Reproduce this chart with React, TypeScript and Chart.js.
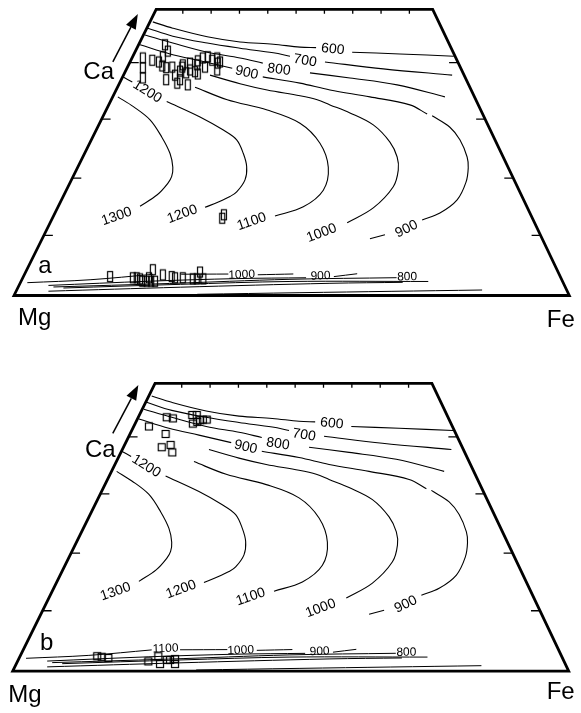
import React, { useEffect, useRef } from "react";
import { Chart, registerables } from "chart.js";

Chart.register(...registerables);

type P = [number, number];
type Lbl = { t: string; x: number; y: number; r: number };

const FONT = '"Liberation Sans", Arial, Helvetica, sans-serif';

// Coordinates: x = position along Mg -> Fe (%), y = Ca (Wo %)
const frameCorners: P[] = [[0, 0], [100, 0], [75.4, 50], [25.6, 50]];
const sideTicks: number[] = [10.5, 20.5, 30.8, 40.7];
const topTicks: number[] = [30.4, 35.5, 40.6, 45.7, 50.8, 55.9, 61.0, 66.1, 71.2];

// Ca-rich isotherms
const aug600a: P[] = [[25.0, 47.8], [28.6, 46.7], [34.8, 45.2], [40.7, 44.3], [46.7, 43.9], [51.5, 43.4], [54.4, 43.3]];
const aug600b: P[] = [[60.9, 42.5], [69.5, 42.2], [79.2, 41.8]];
const aug700a: P[] = [[24.1, 46.7], [28.6, 45.3], [34.8, 44.1], [40.7, 43.2], [46.7, 42.4], [49.7, 41.8]];
const aug700b: P[] = [[56.0, 40.8], [66.5, 39.6], [78.9, 38.5]];
const aug800a: P[] = [[23.6, 45.5], [28.6, 44.1], [34.8, 42.5], [40.7, 41.5], [44.8, 40.6]];
const aug800b: P[] = [[53.3, 38.9], [60.5, 38.0], [69.0, 36.8], [77.6, 34.7]];
const aug900a: P[] = [[22.7, 43.8], [28.1, 42.2], [33.5, 41.0], [39.3, 39.7]];
const aug900b: P[] = [[44.8, 38.2], [51.5, 37.1], [56.9, 35.9], [64.1, 34.7], [71.3, 33.3], [74.4, 31.7]];
const aug900c: P[] = [[75.3, 31.4], [78.5, 29.4], [80.3, 27.2], [81.6, 24.2], [81.8, 22.3], [81.4, 19.8], [79.8, 16.7], [76.7, 14.4], [73.5, 13.2]];
const aug900d: P[] = [[66.8, 10.6], [64.1, 9.9]];
const iso1000: P[] = [[35.3, 38.5], [40.7, 37.0], [45.6, 35.9], [51.5, 34.9], [54.6, 34.2], [56.9, 33.3], [60.5, 31.9], [64.7, 29.8], [67.7, 26.8], [69.0, 24.2], [69.2, 21.9], [68.3, 19.0], [64.7, 15.3], [60.0, 12.7]];
const iso1100: P[] = [[32.6, 36.4], [38.4, 34.2], [45.6, 32.4], [51.5, 30.1], [55.1, 26.6], [56.6, 22.4], [55.7, 18.4], [52.1, 15.5], [47.0, 13.9]];
const iso1200a: P[] = [[19.6, 38.2], [21.3, 37.3]];
const iso1200b: P[] = [[27.5, 33.9], [33.5, 31.2], [37.7, 28.9], [40.1, 27.2], [41.3, 24.8], [41.9, 22.5], [41.6, 20.2], [40.1, 18.1], [38.9, 17.3], [36.7, 16.3], [34.4, 15.4]];
const iso1300: P[] = [[18.7, 34.7], [21.5, 33.0], [24.5, 30.7], [26.6, 27.7], [28.1, 24.8], [28.6, 22.4], [28.4, 20.8], [27.7, 19.6], [25.8, 17.6], [22.7, 15.6]];

// Ca-poor isotherms
const lowTopA: P[] = [[2.4, 2.24], [13.7, 2.75], [25.0, 3.7]];
const lowTopB: P[] = [[30.1, 3.72], [38.6, 3.75]];
const lowTopC: P[] = [[43.9, 3.62], [50.3, 3.76]];
const low900a: P[] = [[6.2, 1.76], [24.5, 2.5], [40.0, 2.95], [52.6, 3.1]];
const low900b: P[] = [[57.6, 3.3], [61.8, 3.8]];
const low800: P[] = [[7.1, 1.49], [28.0, 2.1], [49.7, 2.83], [68.9, 3.11]];
const lowD: P[] = [[8.9, 1.31], [30.0, 1.95], [49.7, 2.45], [74.6, 2.45]];
const lowE: P[] = [[6.2, 0.75], [30.0, 1.45], [56.9, 2.13], [70.0, 2.3]];
const lowF: P[] = [[33.0, 0.21], [51.5, 0.49], [84.3, 0.96]];

const augiteSegments: P[][] = [aug600a, aug600b, aug700a, aug700b, aug800a, aug800b, aug900a, aug900b, aug900c, aug900d, iso1000, iso1100, iso1200a, iso1200b, iso1300];
const lowSegments: P[][] = [lowTopA, lowTopB, lowTopC, low900a, low900b, low800, lowD, lowE, lowF];

const augiteLabels: Lbl[] = [
  { t: "600", x: 57.4, y: 43.0, r: 6 },
  { t: "700", x: 52.4, y: 41.0, r: 10 },
  { t: "800", x: 47.7, y: 39.45, r: 8 },
  { t: "900", x: 41.9, y: 38.9, r: 13 },
  { t: "1200", x: 24.0, y: 35.6, r: 32 },
  { t: "1300", x: 18.5, y: 13.8, r: -19 },
  { t: "1200", x: 30.3, y: 14.2, r: -20 },
  { t: "1100", x: 42.8, y: 12.9, r: -19 },
  { t: "1000", x: 55.4, y: 10.9, r: -21 },
  { t: "900", x: 70.7, y: 11.6, r: -26 },
];
const lowLabels: Lbl[] = [
  { t: "1000", x: 41.0, y: 3.6, r: -2 },
  { t: "900", x: 55.2, y: 3.4, r: -2 },
  { t: "800", x: 70.8, y: 3.25, r: -1 },
];
const lowLabelsB: Lbl[] = [{ t: "1100", x: 27.5, y: 3.9, r: -2 }];

// Analyses, panel a
const samplesAUpper: P[] = [
  [23.2, 41.5], [23.2, 39.8], [23.2, 38.0], [24.9, 41.1], [26.1, 40.8], [27.2, 43.8], [27.7, 42.7], [26.8, 41.7],
  [27.4, 39.8], [27.4, 37.7], [28.5, 39.9], [29.0, 38.5], [29.4, 37.1], [29.9, 39.2], [30.4, 40.3], [31.0, 38.9],
  [31.3, 36.8], [31.7, 39.4], [32.6, 39.1], [33.0, 40.3], [33.1, 41.0], [34.0, 41.5], [34.9, 41.7], [35.7, 41.1],
  [36.6, 41.5], [36.7, 40.6], [36.6, 39.4], [37.1, 40.8], [34.4, 39.9], [33.1, 38.7], [30.3, 39.9], [26.7, 40.1],
  [31.7, 40.6], [29.9, 37.7], [37.5, 13.5], [37.8, 14.1],
];
const samplesALower: P[] = [
  [17.3, 3.3], [21.4, 3.1], [22.1, 3.1], [22.7, 2.9], [23.1, 2.5], [23.9, 2.5], [24.3, 3.1], [24.7, 2.5], [25.0, 4.5],
  [25.4, 2.5], [26.8, 3.6], [28.4, 3.3], [29.0, 3.1], [30.4, 3.1], [32.2, 2.9], [32.9, 2.9], [33.5, 4.1], [34.1, 2.9],
];
// Analyses, panel b
const samplesBUpper: P[] = [
  [27.7, 44.1], [28.8, 43.9], [32.3, 44.5], [32.4, 43.0], [33.1, 44.5], [33.2, 43.3], [33.7, 43.6], [34.2, 43.7],
  [34.9, 43.7], [24.5, 42.5], [27.5, 41.2], [26.8, 38.9], [28.4, 39.3], [28.7, 38.0],
];
const samplesBLower: P[] = [
  [15.2, 2.6], [16.0, 2.5], [17.2, 2.3], [24.4, 1.7], [26.2, 2.6], [26.5, 1.25], [27.7, 1.95], [28.3, 1.95], [29.2, 2.1], [29.2, 1.25],
];

type Corner = { t: string; x: number; y: number };
type PanelProps = {
  top: number;
  height: number;
  pad: { left: number; right: number; top: number; bottom: number };
  samples: P[][];
  markerW: number;
  markerH: number;
  corners: Corner[];
  extraLabels: Lbl[];
  arrow: [P, P];
};

function makeMarker(w: number, h: number): HTMLCanvasElement {
  const c = document.createElement("canvas");
  c.width = w + 3;
  c.height = h + 3;
  const g = c.getContext("2d")!;
  g.strokeStyle = "#000";
  g.lineWidth = 1.2;
  g.strokeRect(1.5, 1.5, w, h);
  return c;
}

const toXY = (s: P[]) => s.map(([x, y]) => ({ x, y }));

function Panel(props: PanelProps) {
  const ref = useRef<HTMLCanvasElement | null>(null);
  useEffect(() => {
    const canvas = ref.current;
    if (!canvas) return;
    const marker = makeMarker(props.markerW, props.markerH);
    const lineDs = (s: P[], w: number) => ({
      data: toXY(s),
      showLine: true,
      pointRadius: 0,
      pointHoverRadius: 0,
      borderColor: "#000",
      backgroundColor: "#000",
      borderWidth: w,
      tension: 0.35,
      clip: false as const,
    });
    const datasets: any[] = [
      ...augiteSegments.map((s) => lineDs(s, 1.1)),
      ...lowSegments.map((s) => lineDs(s, 1)),
      ...props.samples.map((s) => ({
        data: toXY(s),
        showLine: false,
        pointStyle: marker,
        pointRadius: 4,
        pointHoverRadius: 4,
        clip: false as const,
      })),
    ];
    const overlay = {
      id: "overlay",
      afterDatasetsDraw(chart: any) {
        const ctx: CanvasRenderingContext2D = chart.ctx;
        const xs = chart.scales.x;
        const ys = chart.scales.y;
        const X = (v: number) => xs.getPixelForValue(v);
        const Y = (v: number) => ys.getPixelForValue(v);
        ctx.save();
        ctx.strokeStyle = "#000";
        ctx.fillStyle = "#000";
        // frame
        ctx.beginPath();
        frameCorners.forEach(([a, b], i) => (i ? ctx.lineTo(X(a), Y(b)) : ctx.moveTo(X(a), Y(b))));
        ctx.closePath();
        ctx.lineWidth = 2.8;
        ctx.lineJoin = "miter";
        ctx.stroke();
        // ticks
        const [, , tr, tl] = frameCorners;
        ctx.lineWidth = 1.3;
        ctx.beginPath();
        for (const w of sideTicks) {
          const yy = Y(w);
          const xl = X((tl[0] * w) / tl[1]);
          ctx.moveTo(xl, yy);
          ctx.lineTo(xl + 9, yy);
          const xr = X(100 - ((100 - tr[0]) * w) / tr[1]);
          ctx.moveTo(xr, yy);
          ctx.lineTo(xr - 9, yy);
        }
        for (const t of topTicks) {
          const xx = X(t);
          ctx.moveTo(xx, Y(50));
          ctx.lineTo(xx, Y(50) + 4.5);
        }
        ctx.stroke();
        // arrow
        const [a0, a1] = props.arrow;
        const x0 = X(a0[0]), y0 = Y(a0[1]), x1 = X(a1[0]), y1 = Y(a1[1]);
        const ang = Math.atan2(y1 - y0, x1 - x0);
        const hl = 15, hw = 5.5;
        const bx = x1 - hl * Math.cos(ang), by = y1 - hl * Math.sin(ang);
        ctx.lineWidth = 1.5;
        ctx.beginPath();
        ctx.moveTo(x0, y0);
        ctx.lineTo(bx, by);
        ctx.stroke();
        ctx.beginPath();
        ctx.moveTo(x1, y1);
        ctx.lineTo(bx + hw * Math.sin(ang), by - hw * Math.cos(ang));
        ctx.lineTo(bx - hw * Math.sin(ang), by + hw * Math.cos(ang));
        ctx.closePath();
        ctx.fill();
        // isotherm labels
        const drawLbl = (l: Lbl, size: number) => {
          ctx.save();
          ctx.translate(X(l.x), Y(l.y));
          ctx.rotate((l.r * Math.PI) / 180);
          ctx.font = `${size}px ${FONT}`;
          ctx.textAlign = "center";
          ctx.textBaseline = "middle";
          ctx.fillText(l.t, 0, 0);
          ctx.restore();
        };
        augiteLabels.forEach((l) => drawLbl(l, 14));
        lowLabels.forEach((l) => drawLbl(l, 12));
        props.extraLabels.forEach((l) => drawLbl(l, 12));
        // corner labels
        ctx.font = `24px ${FONT}`;
        ctx.textAlign = "left";
        ctx.textBaseline = "alphabetic";
        for (const c of props.corners) ctx.fillText(c.t, X(c.x), Y(c.y));
        ctx.restore();
      },
    };
    const chart = new Chart(canvas, {
      type: "scatter",
      data: { datasets },
      options: {
        animation: false,
        responsive: false,
        events: [],
        layout: { padding: props.pad },
        plugins: { legend: { display: false }, tooltip: { enabled: false } },
        scales: {
          x: { type: "linear", min: 0, max: 100, display: false },
          y: { type: "linear", min: 0, max: 50, display: false },
        },
      },
      plugins: [overlay],
    } as any);
    return () => chart.destroy();
  }, []);
  return (
    <canvas
      ref={ref}
      width={581}
      height={props.height}
      style={{ position: "absolute", left: 0, top: props.top, width: 581, height: props.height }}
    />
  );
}

const cornersA: Corner[] = [
  { t: "Mg", x: 0.72, y: -5.24 },
  { t: "Fe", x: 95.94, y: -5.5 },
  { t: "Ca", x: 12.48, y: 37.82 },
  { t: "a", x: 4.38, y: 3.88 },
];
const cornersB: Corner[] = [
  { t: "Mg", x: -0.79, y: -5.35 },
  { t: "Fe", x: 96.04, y: -4.78 },
  { t: "Ca", x: 13.0, y: 37.2 },
  { t: "b", x: 4.91, y: 3.68 },
];

export default function App() {
  return (
    <div style={{ position: "absolute", left: 0, top: 0, width: 581, height: 713, background: "#fff", overflow: "hidden" }}>
      <Panel
        top={0}
        height={360}
        pad={{ left: 14, right: 11.7, top: 9.3, bottom: 64.5 }}
        samples={[samplesAUpper, samplesALower]}
        markerW={5}
        markerH={10}
        corners={cornersA}
        extraLabels={[]}
        arrow={[[17.8, 40.8], [22.3, 49.2]]}
      />
      <Panel
        top={360}
        height={353}
        pad={{ left: 12.7, right: 12.3, top: 23.3, bottom: 41.8 }}
        samples={[samplesBUpper, samplesBLower]}
        markerW={7}
        markerH={7}
        corners={cornersB}
        extraLabels={lowLabelsB}
        arrow={[[18.0, 41.3], [22.6, 49.7]]}
      />
    </div>
  );
}
